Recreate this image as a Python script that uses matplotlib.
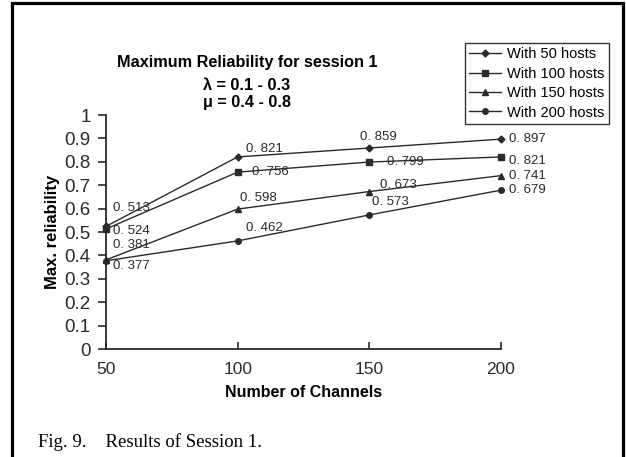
import matplotlib.pyplot as plt
from matplotlib.patches import Rectangle

# === DADOS ===
canais = [50, 100, 150, 200]
hosts_50 = [0.524, 0.821, 0.859, 0.897]
hosts_100 = [0.513, 0.756, 0.799, 0.821]
hosts_150 = [0.381, 0.598, 0.673, 0.741]
hosts_200 = [0.377, 0.462, 0.573, 0.679]

series = [
    ('With 50 hosts', hosts_50, 'D', 3.5),
    ('With 100 hosts', hosts_100, 's', 4),
    ('With 150 hosts', hosts_150, '^', 4.5),
    ('With 200 hosts', hosts_200, 'o', 4),
]

# deslocamento (pontos) de cada rótulo em relação ao ponto
offsets = {
    'With 50 hosts': [(5, -3), (6, 6), (-7, 8), (6, 0)],
    'With 100 hosts': [(5, 15), (10, 0), (13, 0), (6, -3)],
    'With 150 hosts': [(5, 11), (2, 8), (8, 5), (6, 0)],
    'With 200 hosts': [(5, -4), (6, 9), (2, 9), (6, 0)],
}

plt.rcParams['font.family'] = ['Liberation Sans', 'DejaVu Sans']
cor = '#2a2a2a'

fig = plt.figure(figsize=(6.26, 4.57), dpi=100)
ax = fig.add_axes([0.1693, 0.2363, 0.631, 0.512])

for nome, valores, marcador, tam in series:
    ax.plot(canais, valores, color=cor, lw=1.0, marker=marcador,
            ms=tam, label=nome, clip_on=False)
    for x, y, (dx, dy) in zip(canais, valores, offsets[nome]):
        ax.annotate(f"0. {round(y * 1000):03d}", (x, y), xytext=(dx, dy),
                    textcoords='offset points', fontsize=9.5, color=cor,
                    ha='left', va='center')

ax.set_xlim(50, 200)
ax.set_ylim(0, 1)
ax.set_xticks(canais)
ax.set_yticks([i / 10 for i in range(11)])
ax.set_yticklabels(['0'] + [f'0.{i}' for i in range(1, 10)] + ['1'])
ax.tick_params(axis='y', direction='out', length=6, width=1.2, pad=5,
               labelsize=13.5, colors=cor)
ax.tick_params(axis='x', direction='in', length=5, width=1.2, pad=9,
               labelsize=12.5, colors=cor)
for lado in ['top', 'right']:
    ax.spines[lado].set_visible(False)
for lado in ['left', 'bottom']:
    ax.spines[lado].set_linewidth(1.3)
    ax.spines[lado].set_color(cor)

ax.set_xlabel('Number of Channels', fontsize=11.5, fontweight='bold', labelpad=6)
ax.set_ylabel('Max. reliability', fontsize=12, fontweight='bold', labelpad=3)

fig.text(0.3946, 0.8643, 'Maximum Reliability for session 1', ha='center',
         va='center', fontsize=11.7, fontweight='bold')
fig.text(0.3946, 0.814, 'λ = 0.1 - 0.3', ha='center', va='center',
         fontsize=11.7, fontweight='bold')
fig.text(0.3946, 0.7768, 'μ = 0.4 - 0.8', ha='center', va='center',
         fontsize=11.7, fontweight='bold')

leg = fig.legend(loc='upper right', bbox_to_anchor=(0.9728, 0.906), fontsize=10.5,
                 frameon=True, fancybox=False, edgecolor='black',
                 handlelength=2.2, borderpad=0.3, labelspacing=0.37,
                 handletextpad=0.4, borderaxespad=0)
leg.get_frame().set_linewidth(1.0)

fig.text(0.061, 0.033, 'Fig. 9.    Results of Session 1.', fontsize=13.5,
         family='Liberation Serif', va='center')

# moldura
fig.patches.append(Rectangle((0.019, -0.05), 0.976, 1.0434, transform=fig.transFigure,
                             fill=False, edgecolor='black', lw=2.3))

plt.savefig('out.png', dpi=100)
